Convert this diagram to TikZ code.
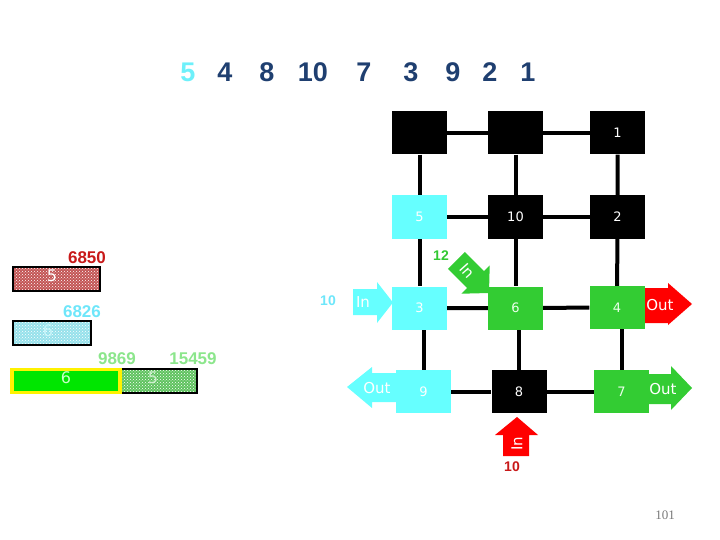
\documentclass[tikz,border=0pt]{standalone}
\usepackage{fontspec}
\setmainfont{Liberation Sans}
\newfontfamily\dv{DejaVu Sans}
\newfontfamily\tms{Liberation Serif}
\usetikzlibrary{backgrounds,patterns}
\definecolor{cyanbox}{RGB}{102,255,255}
\definecolor{greenbox}{RGB}{51,204,51}
\definecolor{navy}{RGB}{31,63,112}
\definecolor{toplight}{RGB}{110,240,250}
\definecolor{darkred}{RGB}{200,25,25}
\definecolor{lab12}{RGB}{50,200,50}
\definecolor{labcyan}{RGB}{110,230,250}
\definecolor{labgreen}{RGB}{140,230,140}
\definecolor{redbar}{RGB}{195,85,85}
\definecolor{cyanbar}{RGB}{150,225,235}
\definecolor{greenbar}{RGB}{95,195,95}
\definecolor{brightgreen}{RGB}{0,230,0}
\definecolor{pagegray}{RGB}{120,120,120}
\tikzset{
  gridbox/.style={minimum width=55pt, minimum height=43pt, inner sep=0pt, text=white,
    font=\dv\fontsize{13}{13}\selectfont},
  blackbox/.style={gridbox, fill=black},
  cyanb/.style={gridbox, fill=cyanbox, text=white},
  greenb/.style={gridbox, fill=greenbox, text={rgb,255:red,235;green,255;blue,235}},
  gridline/.style={line width=4pt, black},
  toptext/.style={font=\bfseries\fontsize{27}{27}\selectfont, text=navy, inner sep=0pt},
  arrowtext/.style={font=\dv\fontsize{15}{15}\selectfont, text=white, inner sep=0pt},
  smalllab/.style={font=\bfseries\fontsize{14}{14}\selectfont, inner sep=0pt},
  barlab/.style={font=\bfseries\fontsize{17}{17}\selectfont, inner sep=0pt},
  bartext/.style={font=\dv\fontsize{16}{16}\selectfont, inner sep=0pt},
}
\begin{document}
\begin{tikzpicture}[x=1pt,y=-1pt]
\useasboundingbox (0,0) rectangle (720,540);
% top sequence
\node[toptext, text=toplight] (s1) at (188,72) {5};
\node[toptext] (s2) at (225,72) {4};
\node[toptext] (s3) at (267,72) {8};
\node[toptext] (s4) at (313,72) {10};
\node[toptext] (s5) at (364,72) {7};
\node[toptext] (s6) at (411,72) {3};
\node[toptext] (s7) at (453,72) {9};
\node[toptext] (s8) at (490,72) {2};
\node[toptext] (s9) at (528,72) {1};

% arrow shapes (drawn before boxes)
\fill[cyanbox] (353,289) -- (377,289) -- (377,282) -- (393,302.5) -- (377,323) -- (377,315) -- (353,315) -- cycle;
\fill[cyanbox] (400,373) -- (372,373) -- (372,367) -- (347,387) -- (372,408) -- (372,402) -- (400,402) -- cycle;
\fill[red] (640,288) -- (668,288) -- (668,283) -- (692,304) -- (668,325) -- (668,323) -- (640,323) -- cycle;
\fill[greenbox] (645,374) -- (671,374) -- (671,366) -- (692,388) -- (671,410) -- (671,404) -- (645,404) -- cycle;
\fill[red] (503,456) -- (503,435) -- (495,435) -- (517,417) -- (538,435) -- (529,435) -- (529,456) -- cycle;
\begin{scope}[shift={(489,293)}, rotate=-45]
\fill[greenbox] (0,0) -- (-19,20) -- (-19,12) -- (-46,12) -- (-46,-12) -- (-19,-12) -- (-19,-20) -- cycle;
\end{scope}

% grid boxes
\node[blackbox] (b11) at (419.5,133) {};
\node[blackbox] (b12) at (515.5,133) {};
\node[blackbox] (b13) at (617.5,133) {1};
\node[cyanb]    (b21) at (419.5,217) {5};
\node[blackbox] (b22) at (515.5,217) {10};
\node[blackbox] (b23) at (617.5,217) {2};
\node[cyanb]    (b31) at (419.5,308) {3};
\node[greenb]   (b32) at (515.5,308) {6};
\node[greenb]   (b33) at (617,307.5) {4};
\node[cyanb]    (b41) at (423.5,391.5) {9};
\node[blackbox] (b42) at (519,391.5) {8};
\node[greenb]   (b43) at (621.5,391.5) {7};

\begin{scope}[on background layer]
\draw[gridline] (b11) -- (b12) -- (b13);
\draw[gridline] (b21) -- (b22) -- (b23);
\draw[gridline] (b31) -- (b32) -- (b33);
\draw[gridline] (b41) -- (b42) -- (b43);
\draw[gridline] (b11) -- (b21) -- (b31);
\draw[gridline] (b12) -- (b22) -- (b32);
\draw[gridline] (b13) -- (b23) -- (b33);
\draw[gridline] (b41) -- (b41 |- b31);
\draw[gridline] (b42) -- (b42 |- b32);
\draw[gridline] (b43) -- (b43 |- b33);
\end{scope}

% arrow texts
\node[arrowtext] (ain1) at (363,302) {In};
\node[arrowtext] (aout1) at (377,388) {Out};
\node[arrowtext] (aout2) at (660,305) {Out};
\node[arrowtext] (aout3) at (663,389) {Out};
\node[arrowtext, rotate=90] (ain2) at (517,444) {In};
\node[arrowtext, rotate=-48] (ain3) at (467,271) {In};

% labels
\node[smalllab, text=lab12] (l12) at (441,256) {12};
\node[smalllab, text=labcyan] (l10a) at (328,301) {10};
\node[smalllab, text=darkred] (l10b) at (512,467) {10};

% left bars
\node[barlab, text=darkred] (t6850) at (87,258) {6850};
\filldraw[fill=redbar, draw=black, line width=2.5pt] (13,267) rectangle (100,291);
\fill[pattern=crosshatch dots, pattern color=white] (14.5,268.5) rectangle (98.5,289.5);
\node[bartext, text=white] (r5) at (52,276) {5};

\node[barlab, text=labcyan] (t6826) at (82,312) {6826};
\filldraw[fill=cyanbar, draw=black, line width=2.5pt] (13,321) rectangle (91,345);
\fill[pattern=crosshatch dots, pattern color=white] (14.5,322.5) rectangle (89.5,343.5);
\node[bartext, text={rgb,255:red,200;green,245;blue,250}] (c6) at (48,331) {6};

\node[barlab, text=labgreen] (t9869) at (117,359) {9869};
\node[barlab, text=labgreen] (t15459) at (193,359) {15459};
\filldraw[fill=greenbar, draw=black, line width=2.5pt] (121,369) rectangle (197,393);
\fill[pattern=crosshatch dots, pattern color=white] (122.5,370.5) rectangle (195.5,391.5);
\node[bartext, text={rgb,255:red,205;green,240;blue,205}] (g5) at (153,378) {5};
\filldraw[fill=brightgreen, draw=yellow, line width=3.5pt] (12,369.5) rectangle (120,392.5);
\node[bartext, text={rgb,255:red,200;green,255;blue,200}] (g6) at (66,378) {6};

% page number
\node[font=\tms\fontsize{13}{13}\selectfont, text=pagegray, inner sep=0pt] (pg) at (665,515) {101};
\end{tikzpicture}
\end{document}
